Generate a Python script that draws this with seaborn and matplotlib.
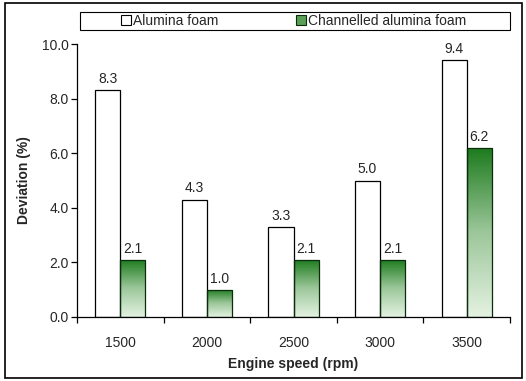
import numpy as np
import pandas as pd
import seaborn as sns
import matplotlib
matplotlib.use("Agg")
import matplotlib.pyplot as plt
from matplotlib.colors import LinearSegmentedColormap
from matplotlib.patches import Rectangle, Patch
from matplotlib.ticker import FixedLocator

speeds = ["1500", "2000", "2500", "3000", "3500"]
alumina = [8.3, 4.3, 3.3, 5.0, 9.4]
channelled = [2.1, 1.0, 2.1, 2.1, 6.2]
series = ["Alumina foam", "Channelled alumina foam"]

df = pd.DataFrame({
    "speed": speeds * 2,
    "value": alumina + channelled,
    "series": [series[0]] * len(speeds) + [series[1]] * len(speeds),
})

sns.set_theme(style="white")
plt.rcParams["font.family"] = ["Liberation Sans", "DejaVu Sans"]
FS = 10

W, H = 526, 381
fig = plt.figure(figsize=(W / 100, H / 100), dpi=100)
ax = fig.add_axes([77 / W, 1 - 317 / H, (510 - 77) / W, (317 - 44) / H])

sns.barplot(data=df, x="speed", y="value", hue="series", order=speeds,
            hue_order=series, palette=["white", "#2e8b2e"], width=0.58,
            edgecolor="black", linewidth=0.9, ax=ax, legend=False)

cmap = LinearSegmentedColormap.from_list("g", ["#e4f2e2", "#9cc79a", "#1c7a1c"])
grad = np.linspace(0, 1, 256).reshape(-1, 1)
for p in ax.containers[1]:
    x0, y0 = p.get_x(), p.get_y()
    w, h = p.get_width(), p.get_height()
    im = ax.imshow(grad, cmap=cmap, origin="lower", aspect="auto",
                   extent=[x0, x0 + w, y0, y0 + h], zorder=p.get_zorder() - 0.1)
    im.set_clip_path(p)
    p.set_facecolor("none")
    p.set_edgecolor("#0b2d0b")

for c in ax.containers:
    ax.bar_label(c, fmt="%.1f", padding=3, fontsize=FS)

ax.set_xlim(-0.5, len(speeds) - 0.5)
ax.set_ylim(0, 10)
yt = np.arange(0, 10.1, 2.0)
ax.set_yticks(yt)
ax.set_yticklabels([f"{v:.1f}" for v in yt], fontsize=FS)
ax.xaxis.set_major_locator(FixedLocator(np.arange(-0.5, len(speeds), 1.0)))
ax.set_xticklabels([""] * (len(speeds) + 1))
ax.xaxis.set_minor_locator(FixedLocator(np.arange(0, len(speeds))))
ax.set_xticklabels(speeds, minor=True, fontsize=FS)
ax.tick_params(axis="x", which="major", direction="out", length=4, width=0.9, color="black", bottom=True)
ax.tick_params(axis="x", which="minor", length=0, pad=14)
ax.tick_params(axis="y", direction="out", length=4, width=0.9, color="black", left=True, pad=2)

for s in ["top", "right"]:
    ax.spines[s].set_visible(False)
for s in ["left", "bottom"]:
    ax.spines[s].set_color("black")
    ax.spines[s].set_linewidth(0.9)

ax.set_xlabel("Engine speed (rpm)", fontsize=FS, fontweight="bold", labelpad=5)
ax.set_ylabel("Deviation (%)", fontsize=FS, fontweight="bold", labelpad=8)

# legend frame spanning the top
fig.patches.append(Rectangle((80 / W, 1 - 30 / H), (510 - 80) / W, 18 / H,
                             transform=fig.transFigure, fill=False,
                             edgecolor="black", linewidth=0.8))
handles = [Patch(facecolor="white", edgecolor="black", linewidth=0.8),
           Patch(facecolor="#5a9f58", edgecolor="#0b2d0b", linewidth=0.8)]
leg = fig.legend(handles, series, loc="center", ncol=2,
                 bbox_to_anchor=(294 / W, 1 - 21 / H),
                 bbox_transform=fig.transFigure, frameon=False,
                 fontsize=FS, handlelength=0.7, handleheight=0.7,
                 handletextpad=0.15, borderpad=0, borderaxespad=0, columnspacing=5.6)

fig.patches.append(Rectangle((5 / W, 3 / H), 517 / W, 375 / H, transform=fig.transFigure,
                             fill=False, edgecolor="black", linewidth=1.2))

fig.savefig("out.png", dpi=100, facecolor="white")
